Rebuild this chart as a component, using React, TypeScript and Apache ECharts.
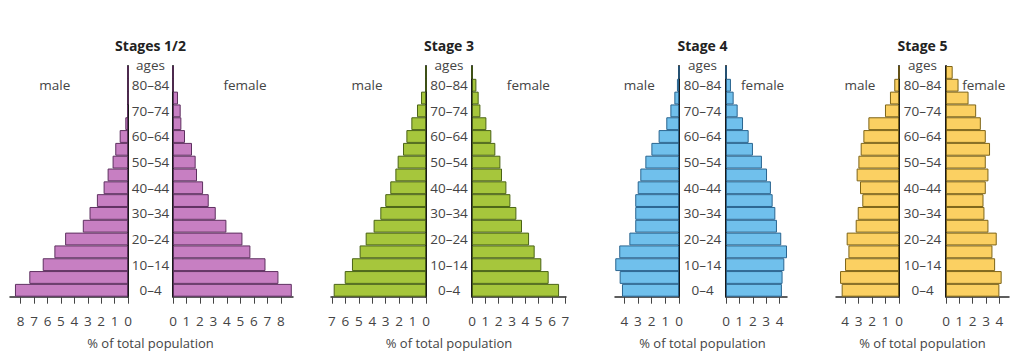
import React, { useEffect, useRef } from "react";
import * as echarts from "echarts";

const ageGroups = [
  "0–4", "5–9", "10–14", "15–19", "20–24", "25–29", "30–34", "35–39", "40–44",
  "45–49", "50–54", "55–59", "60–64", "65–69", "70–74", "75–79", "80–84", "85+",
];

const stageTitles = ["Stages 1/2", "Stage 3", "Stage 4", "Stage 5"];

const stage12Male = [8.43, 7.36, 6.36, 5.49, 4.69, 3.37, 2.87, 2.32, 1.82, 1.52, 1.15, 0.95, 0.62, 0.2, 0.07, 0, 0, 0];
const stage12Female = [8.81, 7.82, 6.86, 5.74, 5.15, 3.96, 3.17, 2.65, 2.23, 1.78, 1.68, 1.41, 0.89, 0.62, 0.57, 0.37, 0, 0];
const stage3Male = [6.87, 6.05, 5.51, 4.94, 4.49, 3.9, 3.4, 3.03, 2.66, 2.28, 2.11, 1.71, 1.46, 1.09, 0.67, 0.37, 0, 0];
const stage3Female = [6.53, 5.75, 5.2, 4.7, 4.28, 3.75, 3.33, 2.88, 2.58, 2.25, 2.13, 1.75, 1.45, 1.08, 0.63, 0.5, 0.33, 0];
const stage4Male = [4.17, 4.34, 4.66, 4.37, 3.63, 3.2, 3.2, 3.2, 3.02, 2.83, 2.46, 2.02, 1.49, 0.93, 0.63, 0.34, 0.15, 0];
const stage4Female = [4.17, 4.22, 4.35, 4.55, 4.12, 3.8, 3.68, 3.48, 3.35, 3.06, 2.68, 2.01, 1.69, 1.27, 0.87, 0.57, 0.37, 0];
const stage5Male = [4.25, 4.37, 4.0, 3.75, 3.88, 3.21, 3.06, 2.72, 2.89, 3.14, 3.01, 2.84, 2.64, 2.27, 1.04, 0.67, 0.35, 0];
const stage5Female = [4.0, 4.17, 3.68, 3.48, 3.8, 3.18, 2.88, 2.81, 2.98, 3.18, 2.98, 3.3, 2.98, 2.61, 2.26, 1.69, 0.94, 0.5];

const ticks12 = [0, 1, 2, 3, 4, 5, 6, 7, 8];
const ticks3 = [0, 1, 2, 3, 4, 5, 6, 7];
const ticks45 = [0, 1, 2, 3, 4];

const maleData = [stage12Male, stage3Male, stage4Male, stage5Male];
const femaleData = [stage12Female, stage3Female, stage4Female, stage5Female];
const axisTicks = [ticks12, ticks3, ticks45, ticks45];

// layout (pixels)
const panels = [
  { mLeft: 10, mWidth: 118, mMax: 8.8, fLeft: 173, fWidth: 120, fMax: 8.9 },
  { mLeft: 331, mWidth: 95, mMax: 7.07, fLeft: 472, fWidth: 94, fMax: 7.05 },
  { mLeft: 615, mWidth: 64, mMax: 4.68, fLeft: 726, fWidth: 61, fMax: 4.55 },
  { mLeft: 836, mWidth: 63, mMax: 4.67, fLeft: 946, fWidth: 63, fMax: 4.72 },
];
const colors = ["#c77fc2", "#a6c63c", "#70c0ec", "#fbd062"];
const borders = ["#5e3060", "#4a6316", "#2a6590", "#7d6418"];

const FONT = "Open Sans";
const TOP = 66;
const BOTTOM = 64.3;

export default function App() {
  const ref = useRef<HTMLDivElement>(null);
  useEffect(() => {
    if (!ref.current) return;
    const chart = echarts.init(ref.current, undefined, { renderer: "svg" });
    const grid: any[] = [];
    const xAxis: any[] = [];
    const yAxis: any[] = [];
    const series: any[] = [];
    const graphic: any[] = [];

    panels.forEach((p, i) => {
      const mi = i * 2;
      const fi = i * 2 + 1;
      grid.push({ left: p.mLeft, width: p.mWidth, top: TOP, bottom: BOTTOM });
      grid.push({ left: p.fLeft, width: p.fWidth, top: TOP, bottom: BOTTOM });
      const xCommon = {
        type: "value",
        min: 0,
        splitLine: { show: false },
        axisLine: { show: true, lineStyle: { color: "#2a2a2a", width: 1.5 } },
        axisTick: { show: true, length: 7, lineStyle: { color: "#444", width: 1 } },
        axisLabel: { color: "#444", fontSize: 13.5, fontFamily: FONT, margin: 17 },
      };
      xAxis.push({
        ...xCommon,
        gridIndex: mi,
        inverse: true,
        max: p.mMax,
        axisTick: { ...xCommon.axisTick, customValues: axisTicks[i] },
        axisLabel: { ...xCommon.axisLabel, customValues: axisTicks[i] },
      });
      xAxis.push({
        ...xCommon,
        gridIndex: fi,
        max: p.fMax,
        axisTick: { ...xCommon.axisTick, customValues: axisTicks[i] },
        axisLabel: { ...xCommon.axisLabel, customValues: axisTicks[i] },
      });
      const gap = p.fLeft - (p.mLeft + p.mWidth);
      yAxis.push({
        type: "category",
        gridIndex: mi,
        data: ageGroups,
        position: "right",
        axisLine: { show: true, onZero: false, lineStyle: { color: "#1a1a1a", width: 2 } },
        axisTick: { show: false },
        axisLabel: {
          show: true,
          interval: 1,
          align: "center",
          margin: gap / 2,
          color: "#444",
          fontSize: 13.5,
          fontFamily: FONT,
        },
        splitLine: { show: false },
      });
      yAxis.push({
        type: "category",
        gridIndex: fi,
        data: ageGroups,
        position: "left",
        axisLine: { show: true, onZero: false, lineStyle: { color: "#1a1a1a", width: 2 } },
        axisTick: { show: false },
        axisLabel: { show: false },
        splitLine: { show: false },
      });
      const barStyle = {
        color: colors[i],
        borderColor: borders[i],
        borderWidth: 1,
      };
      series.push({
        type: "bar",
        name: "male",
        xAxisIndex: mi,
        yAxisIndex: mi,
        data: maleData[i],
        barCategoryGap: "0%",
        itemStyle: barStyle,
        z: 1,
      });
      series.push({
        type: "bar",
        name: "female",
        xAxisIndex: fi,
        yAxisIndex: fi,
        data: femaleData[i],
        barCategoryGap: "0%",
        itemStyle: barStyle,
        z: 1,
      });

      const center = (p.mLeft + p.mWidth + p.fLeft) / 2;
      const txt = (text: string, x: number, y: number, extra: any = {}) => ({
        type: "text",
        x,
        y,
        z: 10,
        style: {
          text,
          fontSize: 13.5,
          fontFamily: FONT,
          fill: "#444",
          align: "center",
          verticalAlign: "middle",
          ...extra,
        },
      });
      graphic.push(txt(stageTitles[i], center, 45, { fontSize: 14, fontWeight: "bold", fill: "#222" }));
      graphic.push(txt("ages", center, 65));
      graphic.push(txt("male", p.mLeft + p.mWidth * 0.38, 85));
      graphic.push(txt("female", p.fLeft + p.fWidth * 0.6, 85));
      graphic.push(txt("% of total population", center, 343, { fontSize: 13 }));
    });

    chart.setOption({
      animation: false,
      backgroundColor: "#ffffff",
      grid,
      xAxis,
      yAxis,
      series,
      graphic,
    });
    return () => chart.dispose();
  }, []);
  return (
    <div
      ref={ref}
      style={{ position: "fixed", left: 0, top: 0, width: 1024, height: 361 }}
    />
  );
}
